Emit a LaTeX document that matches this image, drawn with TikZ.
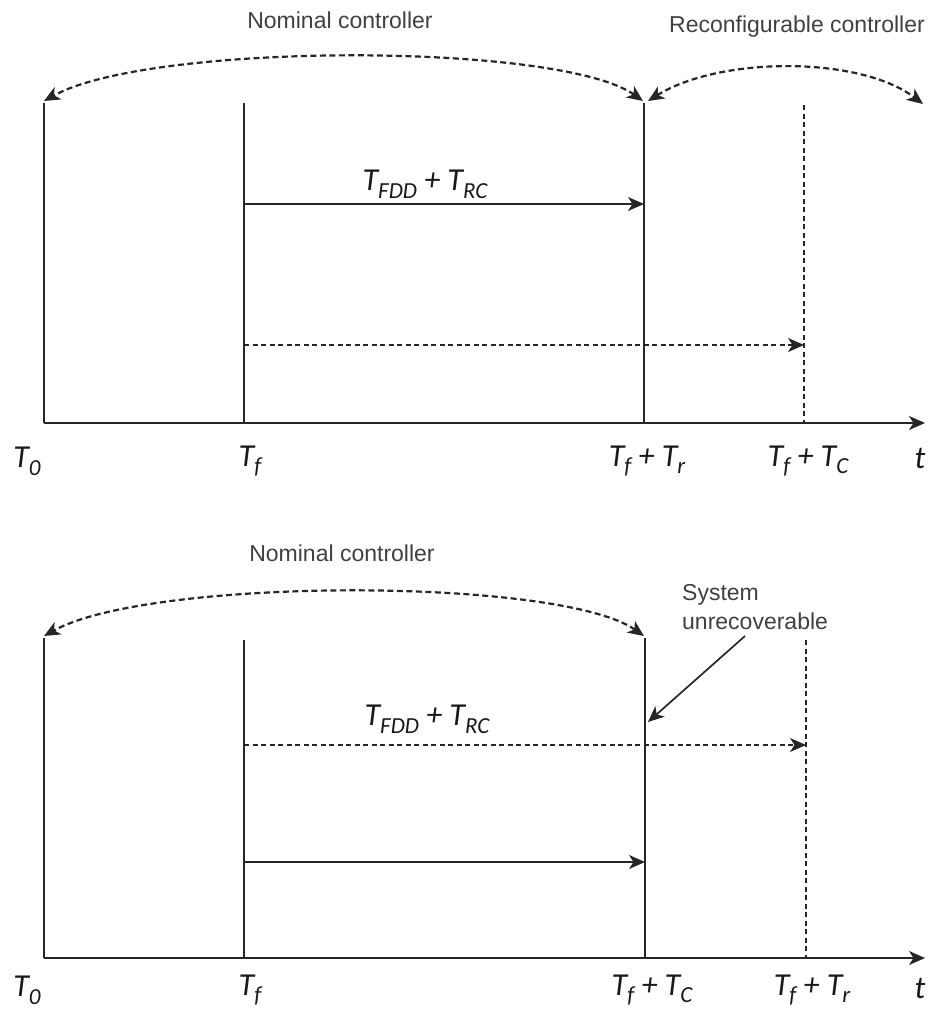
\documentclass[tikz,border=0pt]{standalone}
\usepackage{fontspec}
\setmainfont{Liberation Sans}
\newfontfamily\eqfont{Carlito}
\usetikzlibrary{arrows.meta}
\newcommand{\Tsb}[1]{T\raisebox{-0.24em}{\fontsize{23}{23}\selectfont #1}}
\tikzset{
  ln/.style={line width=1.7pt, black!85},
  dln/.style={line width=1.7pt, black!85, dash pattern=on 5pt off 3.5pt},
  arcl/.style={line width=2.2pt, black!85, dash pattern=on 6pt off 3.5pt},
  tip/.style={-{Stealth[length=16pt,width=14pt,inset=4.5pt]}},
  tips/.style={{Stealth[length=16pt,width=14pt,inset=4.5pt]}-{Stealth[length=16pt,width=14pt,inset=4.5pt]}},
  lbl/.style={font=\fontsize{23}{29}\selectfont, text=black!75, inner sep=0pt},
  eq/.style={font=\eqfont\itshape\fontsize{32}{32}\selectfont, text=black!90, inner sep=0pt},
}
\begin{document}
\begin{tikzpicture}[x=1pt,y=-1pt]
\useasboundingbox (0,0) rectangle (939,1010);
% ---------------- top panel ----------------
\coordinate (a0t) at (44,103);  \coordinate (a0b) at (44,423);
\coordinate (aft) at (244,103); \coordinate (afb) at (244,423);
\coordinate (art) at (644,103); \coordinate (arb) at (644,423);
\coordinate (act) at (804,105); \coordinate (acb) at (804,423);
\coordinate (aend) at (925,423);
\coordinate (ah1s) at (244,204); \coordinate (ah1e) at (644,204);
\coordinate (ah2s) at (244,345); \coordinate (ah2e) at (804,345);
\coordinate (anl) at (44,101); \coordinate (anr) at (643,101);
\coordinate (arl) at (648,101); \coordinate (arr) at (923,104);

\draw[ln] (a0t) -- (a0b);
\draw[ln] (aft) -- (afb);
\draw[ln] (art) -- (arb);
\draw[dln] (act) -- (acb);
\draw[ln,tip] (a0b) -- (aend);
\draw[ln,tip] (ah1s) -- (ah1e);
\draw[dln,tip] (ah2s) -- (ah2e);
\draw[arcl,tips] (anr) .. controls (560,42) and (150,42) .. (anl);
\draw[arcl,tips] (arl) .. controls (720,56) and (860,56) .. (arr);

\node[lbl] (anom) at (340,20) {Nominal controller};
\node[lbl] (arec) at (797,27) {Reconfigurable controller};
\node[eq] (aeq) at (425,184) {\Tsb{FDD} + \Tsb{RC}};
\node[eq] (at0) at (27,461) {\Tsb{0}};
\node[eq] (atf) at (250,461) {\Tsb{f}};
\node[eq] (atr) at (647,461) {\Tsb{f} + \Tsb{r}};
\node[eq] (atc) at (808,461) {\Tsb{f} + \Tsb{C}};
\node[eq] (att) at (920,458) {t};

% ---------------- bottom panel ----------------
\coordinate (b0t) at (44,638);  \coordinate (b0b) at (44,958);
\coordinate (bft) at (244,640); \coordinate (bfb) at (244,958);
\coordinate (bct) at (645,638); \coordinate (bcb) at (645,958);
\coordinate (brt) at (806,640); \coordinate (brb) at (806,958);
\coordinate (bend) at (925,958);
\coordinate (bh1s) at (244,745); \coordinate (bh1e) at (806,745);
\coordinate (bh2s) at (244,862); \coordinate (bh2e) at (645,862);
\coordinate (bnl) at (44,636); \coordinate (bnr) at (644,636);
\coordinate (bsa) at (745,636); \coordinate (bsb) at (648,722);

\draw[ln] (b0t) -- (b0b);
\draw[ln] (bft) -- (bfb);
\draw[ln] (bct) -- (bcb);
\draw[dln] (brt) -- (brb);
\draw[ln,tip] (b0b) -- (bend);
\draw[dln,tip] (bh1s) -- (bh1e);
\draw[ln,tip] (bh2s) -- (bh2e);
\draw[arcl,tips] (bnr) .. controls (560,577) and (150,577) .. (bnl);
\draw[ln,tip] (bsa) -- (bsb);

\node[lbl] (bnom) at (342,553) {Nominal controller};
\node[lbl, align=left, anchor=west] (bsys) at (682,607) {System\\unrecoverable};
\node[eq] (beq) at (427,719) {\Tsb{FDD} + \Tsb{RC}};
\node[eq] (bt0) at (27,990) {\Tsb{0}};
\node[eq] (btf) at (250,990) {\Tsb{f}};
\node[eq] (btc) at (652,990) {\Tsb{f} + \Tsb{C}};
\node[eq] (btr) at (812,990) {\Tsb{f} + \Tsb{r}};
\node[eq] (btt) at (920,988) {t};
\end{tikzpicture}
\end{document}
